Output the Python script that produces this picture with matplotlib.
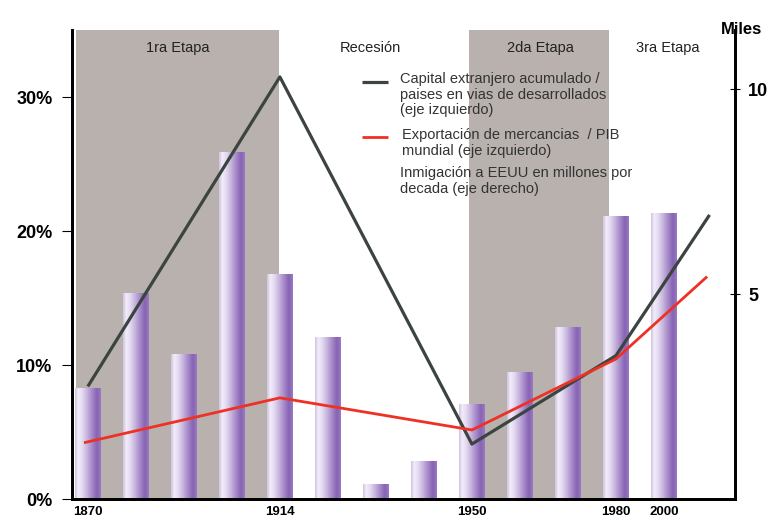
import numpy as np
import matplotlib
matplotlib.use("Agg")
import matplotlib.pyplot as plt
from matplotlib.colors import LinearSegmentedColormap

plt.rcParams['font.family'] = ['Liberation Sans', 'DejaVu Sans']

# --- data ---
bar_pos = list(range(13))
immig = [2.70, 5.02, 3.53, 8.46, 5.49, 3.95, 0.37, 0.93, 2.33, 3.11, 4.19, 6.91, 6.99]  # millones (eje derecho)

cap_x = [0, 4, 8, 11, 12.95]
cap_y = [8.4, 31.5, 4.1, 10.7, 21.2]  # % (eje izquierdo)

exp_x = [-0.08, 4, 8, 11, 12.9]
exp_y = [4.2, 7.55, 5.15, 10.45, 16.6]  # % (eje izquierdo)

year_pos = [0, 4, 8, 11, 12]
year_lbl = ["1870", "1914", "1950", "1980", "2000"]

stage_names = ["1ra Etapa", "Recesión", "2da Etapa", "3ra Etapa"]
stage_lo = [-0.25, 3.98, 7.94, 10.85]
stage_hi = [3.98, 7.94, 10.85, 13.5]
stage_shaded = [True, False, True, False]
stage_label_x = [1.875, 5.875, 9.42, 12.08]

left_ticks = [0, 10, 20, 30]
left_lbl = ["0%", "10%", "20%", "30%"]
right_ticks = [5, 10]

GRAY = "#b8b1ae"
bar_cmap = LinearSegmentedColormap.from_list(
    "bar", [(0, "#cdc2e2"), (0.12, "#f2eef8"), (0.3, "#e0d6ee"),
            (0.85, "#8862b5"), (1.0, "#977bc1")])

fig = plt.figure(figsize=(7.7, 5.23), dpi=100)
ax2 = fig.add_axes([72/770, 1-499/523, 663/770, 469/523])
ax = ax2.twinx()
ax.set_zorder(ax2.get_zorder() + 1)
ax.patch.set_visible(False)

# shaded stages
for a, b, shade in zip(stage_lo, stage_hi, stage_shaded):
    if shade:
        ax2.axvspan(a, b, color=GRAY, lw=0, zorder=0)

# gradient bars (right axis)
bars = ax2.bar(bar_pos, immig, width=0.53, color="none", lw=0, zorder=2)
grad = np.linspace(0, 1, 64).reshape(1, -1)
for r in bars:
    x0, w, h = r.get_x(), r.get_width(), r.get_height()
    im = ax2.imshow(grad, cmap=bar_cmap, extent=[x0, x0 + w, 0, h],
                    aspect="auto", zorder=2, interpolation="bicubic")
    im.set_clip_path(r)

ax2.set_xlim(-0.33, 13.48)
ax2.set_ylim(0, 11.45)
ax.set_ylim(0, 35)

# lines (left axis)
ax.plot(cap_x, cap_y, color="#3b443f", lw=2.3, solid_capstyle="butt", zorder=3)
ax.plot(exp_x, exp_y, color="#ee3124", lw=2.0, solid_capstyle="butt", zorder=3)

ax.yaxis.tick_left()
ax2.yaxis.tick_right()
for a in (ax, ax2):
    a.spines["top"].set_visible(False)
    for s in ("left", "right", "bottom"):
        a.spines[s].set_linewidth(2.0)
        a.spines[s].set_color("black")

ax.set_yticks(left_ticks)
ax.set_yticklabels(left_lbl, fontsize=13, fontweight="bold")
ax.tick_params(axis="y", direction="out", length=7, width=0.8, pad=7)

ax2.set_yticks(right_ticks)
ax2.set_yticklabels([str(t) for t in right_ticks], fontsize=13, fontweight="bold")
ax2.tick_params(axis="y", direction="inout", length=7, width=0.8, pad=6)

ax2.set_xticks(year_pos)
ax2.set_xticklabels(year_lbl, fontsize=9.5, fontweight="bold")
ax2.tick_params(axis="x", length=0, pad=5)
ax.tick_params(axis="x", length=0, labelbottom=False)

# stage names
for name, xc in zip(stage_names, stage_label_x):
    ax.text(xc, 0.962, name, transform=ax.get_xaxis_transform(), ha="center",
            va="center", fontsize=10.5, color="#222222")

fig.text(742/770, 1-29/523, "Miles", ha="center", va="center",
         fontsize=12, fontweight="bold")

# legend drawn by hand
def fx(px):
    return (px - 72) / 663

def fy(py):
    return (499 - py) / 469

ax.plot([fx(362), fx(388)], [fy(82), fy(82)], transform=ax.transAxes,
        color="#3b443f", lw=2.3, solid_capstyle="butt", zorder=4)
ax.plot([fx(362), fx(388)], [fy(137), fy(137)], transform=ax.transAxes,
        color="#ee3124", lw=2.0, solid_capstyle="butt", zorder=4)
legend_txt = [
    (400, 72, "Capital extranjero acumulado /\npaises en vias de desarrollados\n(eje izquierdo)"),
    (402, 128, "Exportación de mercancias  / PIB\nmundial (eje izquierdo)"),
    (400, 166, "Inmigación a EEUU en millones por\ndecada (eje derecho)"),
]
for px, py, t in legend_txt:
    ax.text(fx(px), fy(py), t, transform=ax.transAxes, ha="left", va="top",
            fontsize=10.5, color="#333333", linespacing=1.15, zorder=4)

fig.savefig("out.png", dpi=100)
